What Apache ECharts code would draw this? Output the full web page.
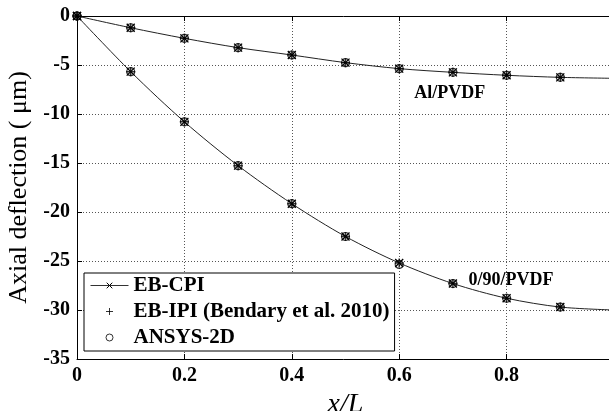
<!DOCTYPE html>
<html><head><meta charset="utf-8">
<script src="https://cdn.jsdelivr.net/npm/echarts@6/dist/echarts.min.js"></script>
<style>html,body{margin:0;padding:0;background:#fff}#c{width:609px;height:411px}</style>
</head><body><div id="c"></div>
<script>
// ---- data ----
const xValues = [0, 0.1, 0.2, 0.3, 0.4, 0.5, 0.6, 0.7, 0.8, 0.9, 1.0];
const xTicks = [0, 0.2, 0.4, 0.6, 0.8, 1];
const yTicks = [0, -5, -10, -15, -20, -25, -30, -35];
// Al/PVDF
const alCPI   = [0, -1.20, -2.28, -3.23, -3.98, -4.76, -5.37, -5.75, -6.05, -6.26, -6.36];
const alIPI   = [0, -1.20, -2.28, -3.23, -3.98, -4.76, -5.37, -5.75, -6.05, -6.26, -6.36];
const alANSYS = [0, -1.20, -2.28, -3.23, -3.98, -4.76, -5.37, -5.75, -6.05, -6.26, -6.36];
// 0/90/PVDF
const cpCPI   = [0, -5.68, -10.80, -15.27, -19.15, -22.50, -25.20, -27.30, -28.80, -29.70, -30.00];
const cpIPI   = [0, -5.68, -10.80, -15.27, -19.15, -22.50, -25.20, -27.30, -28.80, -29.70, -30.00];
const cpANSYS = [0, -5.68, -10.80, -15.27, -19.15, -22.50, -25.35, -27.30, -28.80, -29.70, -30.00];
const seriesNames = ['EB-CPI', 'EB-IPI (Bendary et al. 2010)', 'ANSYS-2D'];
const annotations = [
  {text: 'Al/PVDF', at: [0.694, -7.9]},
  {text: '0/90/PVDF', at: [0.808, -27.0]}
];

// ---- chart ----
const FONT = 'Liberation Serif';
const pairs = ys => xValues.map((x, i) => [x, ys[i]]);
const X_SYM = 'path://M0,0L10,10M10,0L0,10';
const PLUS_SYM = 'path://M5,0L5,10M0,5L10,5';

function lineSeries(ys, mark) {
  return {
    name: seriesNames[0], type: 'line', data: pairs(ys), smooth: 0.3,
    symbol: X_SYM, symbolSize: 8, showAllSymbol: true,
    lineStyle: {color: '#222', width: 1},
    itemStyle: {color: '#000', borderColor: '#000', borderWidth: 1.3},
    z: 3,
    markPoint: {
      symbol: 'circle', symbolSize: 0, silent: true,
      label: {show: true, position: 'inside', formatter: mark.text, color: '#000',
              fontFamily: FONT, fontWeight: 'bold', fontSize: 18},
      data: [{coord: mark.at}]
    }
  };
}
function plusSeries(ys) {
  return {
    name: seriesNames[1], type: 'scatter', data: pairs(ys),
    symbol: PLUS_SYM, symbolSize: 9,
    itemStyle: {color: '#000', borderColor: '#000', borderWidth: 1.5}, z: 4
  };
}
function circSeries(ys) {
  return {
    name: seriesNames[2], type: 'scatter', data: pairs(ys),
    symbol: 'circle', symbolSize: 8,
    itemStyle: {color: 'rgba(0,0,0,0)', borderColor: '#000', borderWidth: 1.2}, z: 5
  };
}

const chart = echarts.init(document.getElementById('c'), null, {renderer: 'canvas'});
const labelStyle = {color: '#000', fontFamily: FONT, fontWeight: 'bold', fontSize: 20};
chart.setOption({
  animation: false,
  backgroundColor: '#fff',
  grid: {left: 77, right: -5, top: 16, bottom: 52, containLabel: false, outerBoundsMode: 'none'},
  xAxis: [{
    type: 'value', min: xTicks[0], max: xTicks[xTicks.length - 1], interval: 0.2,
    axisLine: {show: true, onZero: false, lineStyle: {color: '#000', width: 1}},
    axisTick: {show: true, inside: true, length: 5, lineStyle: {color: '#000'}},
    axisLabel: Object.assign({margin: 7, showMaxLabel: false}, labelStyle),
    splitLine: {show: true, lineStyle: {color: '#555', type: [1, 2], width: 1}},
    name: 'x/L', nameLocation: 'middle', nameGap: 26,
    nameTextStyle: {color: '#000', fontFamily: FONT, fontStyle: 'italic', fontSize: 28}
  }, {
    type: 'value', position: 'top', min: xTicks[0], max: xTicks[xTicks.length - 1], interval: 0.2,
    axisLine: {show: true, onZero: false, lineStyle: {color: '#000', width: 1}},
    axisTick: {show: true, inside: true, length: 5, lineStyle: {color: '#000'}},
    axisLabel: {show: false}, splitLine: {show: false}
  }],
  yAxis: {
    type: 'value', min: yTicks[yTicks.length - 1], max: yTicks[0], interval: 5,
    axisLine: {show: true, onZero: false, lineStyle: {color: '#000', width: 1}},
    axisTick: {show: true, inside: true, length: 5, lineStyle: {color: '#000'}},
    axisLabel: Object.assign({margin: 7}, labelStyle),
    splitLine: {show: true, lineStyle: {color: '#555', type: [1, 2], width: 1}},
    name: 'Axial deflection ( μm)', nameLocation: 'middle', nameGap: 45,
    nameTextStyle: {color: '#000', fontFamily: FONT, fontSize: 26}
  },
  legend: {
    orient: 'vertical', left: 84, top: 273,
    data: seriesNames, selectedMode: false,
    itemWidth: 38, itemHeight: 7, itemGap: 5,
    padding: [2, 5, 3, 6],
    backgroundColor: '#fff', borderColor: '#000', borderWidth: 1, borderRadius: 0,
    textStyle: {color: '#000', fontFamily: FONT, fontWeight: 'bold', fontSize: 21},
    itemStyle: {borderWidth: 1},
    lineStyle: {width: 1, color: '#333'}
  },
  series: [
    lineSeries(alCPI, annotations[0]),
    lineSeries(cpCPI, annotations[1]),
    plusSeries(alIPI), plusSeries(cpIPI),
    circSeries(alANSYS), circSeries(cpANSYS)
  ]
});
</script></body></html>
